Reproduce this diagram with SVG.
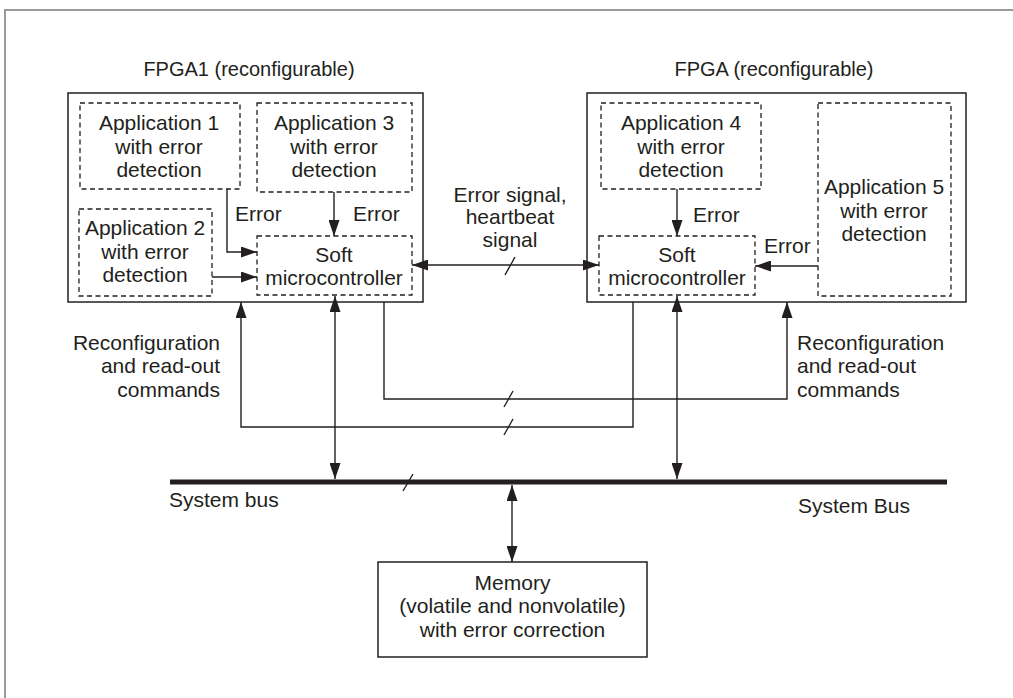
<svg xmlns="http://www.w3.org/2000/svg" width="1013" height="698" viewBox="0 0 1013 698">
  <style>
    text { font-family: "Liberation Sans", Arial, sans-serif; font-size: 21px; fill: #231f20; }
    .title { font-size: 20px; }
    .mid { text-anchor: middle; }
    .end { text-anchor: end; }
    .box { fill: none; stroke: #231f20; stroke-width: 1.5; }
    .dash { fill: none; stroke: #231f20; stroke-width: 1.3; stroke-dasharray: 5 3.5; }
    .wire { fill: none; stroke: #231f20; stroke-width: 1.4; }
    .bus { stroke: #231f20; stroke-width: 5; }
    .frame { fill: none; stroke: #9a9a9a; stroke-width: 2; }
  </style>
  <defs>
    <marker id="arrow" viewBox="0 0 16 11" refX="16" refY="5.5" markerWidth="16" markerHeight="11" markerUnits="userSpaceOnUse" orient="auto-start-reverse">
      <path d="M0,0 L16,5.5 L0,11 z" fill="#231f20"/>
    </marker>
  </defs>

  <rect width="1013" height="698" fill="#ffffff"/>
  <!-- page frame -->
  <path class="frame" d="M5,698 V10 H1013"/>

  <!-- FPGA 1 -->
  <g id="fpga1">
    <rect class="box" x="68" y="93" width="355" height="209"/>
    <text class="mid title" x="249" y="76">FPGA1 (reconfigurable)</text>
  </g>
  <g id="app1">
    <rect class="dash" x="80" y="103" width="160" height="86"/>
    <text class="mid" x="159" y="130">Application 1</text>
    <text class="mid" x="159" y="154">with error</text>
    <text class="mid" x="159" y="177">detection</text>
  </g>
  <g id="app3">
    <rect class="dash" x="257" y="103" width="155" height="89"/>
    <text class="mid" x="334" y="130">Application 3</text>
    <text class="mid" x="334" y="154">with error</text>
    <text class="mid" x="334" y="177">detection</text>
  </g>
  <g id="app2">
    <rect class="dash" x="79" y="209" width="133" height="87"/>
    <text class="mid" x="145" y="235">Application 2</text>
    <text class="mid" x="145" y="259">with error</text>
    <text class="mid" x="145" y="282">detection</text>
  </g>
  <g id="soft1">
    <rect class="dash" x="257" y="236" width="155" height="59"/>
    <text class="mid" x="334" y="262">Soft</text>
    <text class="mid" x="334" y="285">microcontroller</text>
  </g>

  <!-- FPGA 2 -->
  <g id="fpga2">
    <rect class="box" x="587" y="93" width="379" height="209"/>
    <text class="mid title" x="774" y="76">FPGA (reconfigurable)</text>
  </g>
  <g id="app4">
    <rect class="dash" x="601" y="103" width="160" height="86"/>
    <text class="mid" x="681" y="130">Application 4</text>
    <text class="mid" x="681" y="154">with error</text>
    <text class="mid" x="681" y="177">detection</text>
  </g>
  <g id="app5">
    <rect class="dash" x="818" y="103" width="133" height="193"/>
    <text class="mid" x="884" y="194">Application 5</text>
    <text class="mid" x="884" y="218">with error</text>
    <text class="mid" x="884" y="241">detection</text>
  </g>
  <g id="soft2">
    <rect class="dash" x="599" y="236" width="156" height="59"/>
    <text class="mid" x="677" y="262">Soft</text>
    <text class="mid" x="677" y="285">microcontroller</text>
  </g>

  <!-- Memory -->
  <g id="memory">
    <rect class="box" x="378" y="562" width="269" height="95"/>
    <text class="mid" x="512.5" y="590">Memory</text>
    <text class="mid" x="512.5" y="613">(volatile and nonvolatile)</text>
    <text class="mid" x="512.5" y="637">with error correction</text>
  </g>

  <!-- System bus -->
  <g id="system-bus">
    <line class="bus" x1="170" y1="482" x2="947" y2="482"/>
    <line class="wire" x1="403" y1="491" x2="413" y2="474"/>
    <text x="169" y="507">System bus</text>
    <text x="798" y="513">System Bus</text>
  </g>

  <!-- Connectors -->
  <g id="connectors">
    <!-- error lines inside FPGA1 -->
    <path class="wire" d="M227,189 V252 H257" marker-end="url(#arrow)"/>
    <line class="wire" x1="334" y1="192" x2="334" y2="236" marker-end="url(#arrow)"/>
    <line class="wire" x1="212" y1="277" x2="257" y2="277" marker-end="url(#arrow)"/>
    <text x="235" y="221">Error</text>
    <text x="353" y="221">Error</text>

    <!-- error lines inside FPGA2 -->
    <line class="wire" x1="677" y1="189" x2="677" y2="236" marker-end="url(#arrow)"/>
    <line class="wire" x1="818" y1="266" x2="755" y2="266" marker-end="url(#arrow)"/>
    <text x="693" y="222">Error</text>
    <text x="764" y="253">Error</text>

    <!-- heartbeat link between the soft microcontrollers -->
    <line class="wire" x1="412" y1="265" x2="599" y2="265" marker-start="url(#arrow)" marker-end="url(#arrow)"/>
    <line class="wire" x1="505" y1="275" x2="515" y2="257"/>
    <text class="mid" x="510" y="202">Error signal,</text>
    <text class="mid" x="510" y="224">heartbeat</text>
    <text class="mid" x="510" y="247">signal</text>

    <!-- reconfiguration / read-out lines -->
    <path class="wire" d="M384,302 V399 H787 V302" marker-end="url(#arrow)"/>
    <line class="wire" x1="504" y1="407" x2="513" y2="391"/>
    <path class="wire" d="M633,302 V427 H241 V302" marker-end="url(#arrow)"/>
    <line class="wire" x1="504" y1="435" x2="513" y2="419"/>
    <text class="end" x="220" y="350">Reconfiguration</text>
    <text class="end" x="220" y="373">and read-out</text>
    <text class="end" x="220" y="397">commands</text>
    <text x="797" y="350">Reconfiguration</text>
    <text x="797" y="373">and read-out</text>
    <text x="797" y="397">commands</text>

    <!-- microcontrollers to system bus -->
    <line class="wire" x1="335" y1="296" x2="335" y2="479" marker-start="url(#arrow)" marker-end="url(#arrow)"/>
    <line class="wire" x1="677" y1="296" x2="677" y2="479" marker-start="url(#arrow)" marker-end="url(#arrow)"/>

    <!-- system bus to memory -->
    <line class="wire" x1="512" y1="485" x2="512" y2="562" marker-start="url(#arrow)" marker-end="url(#arrow)"/>
  </g>
</svg>
